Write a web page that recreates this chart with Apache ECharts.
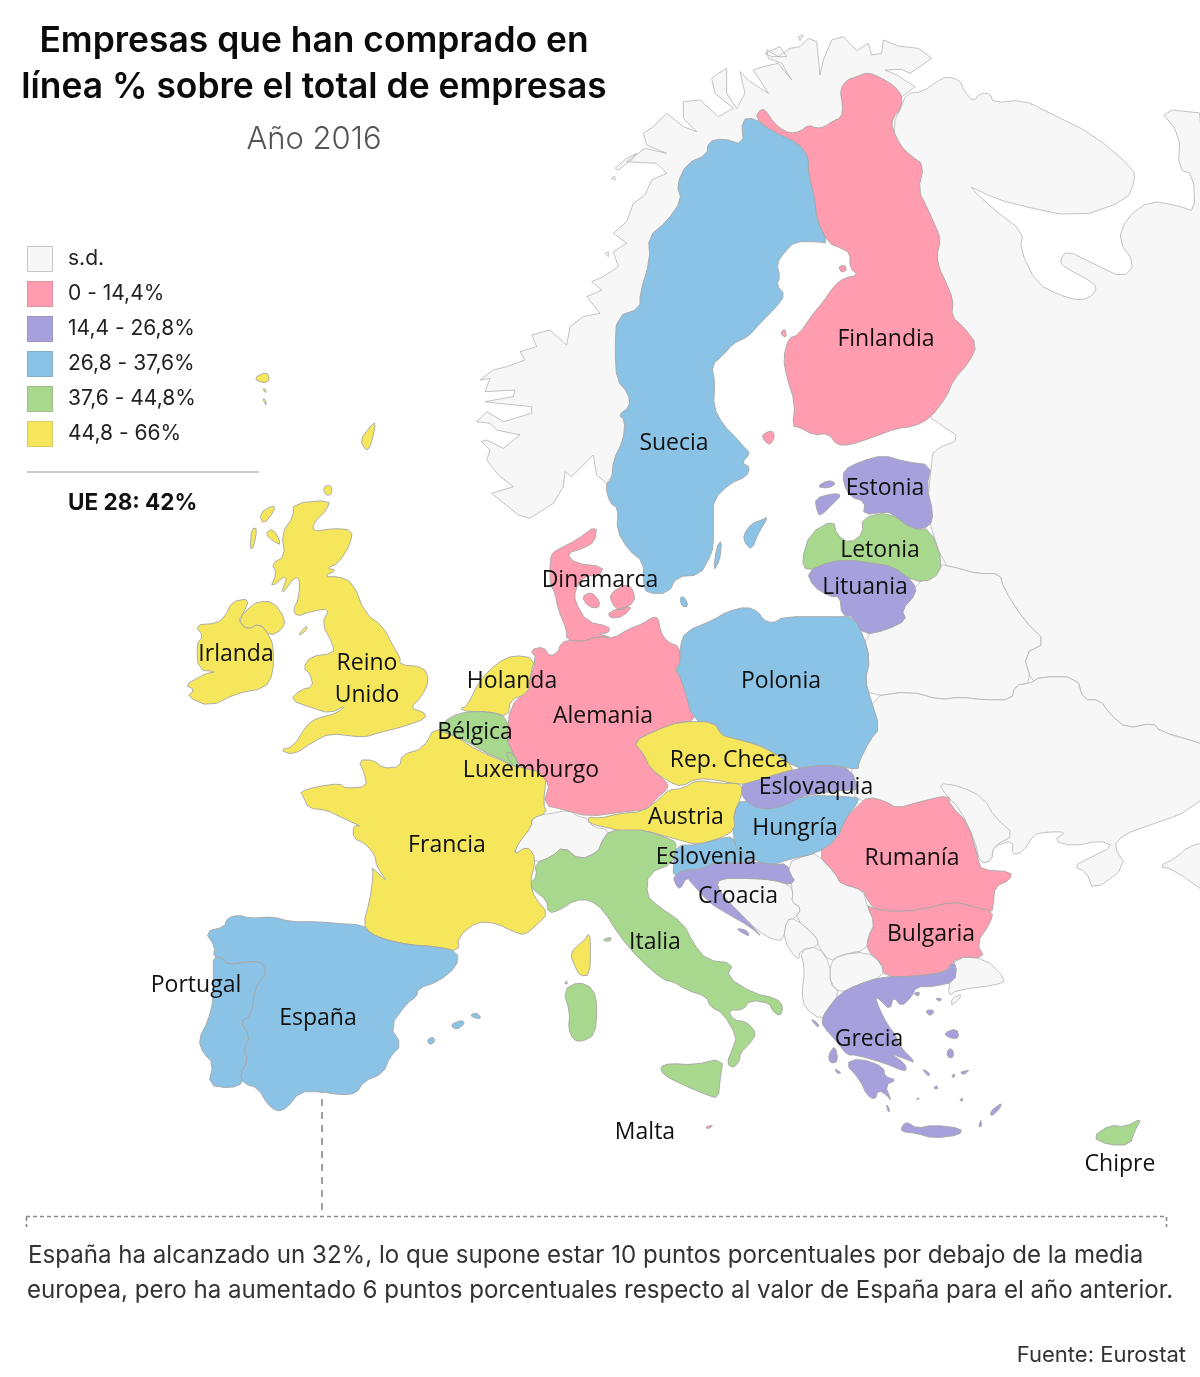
<!DOCTYPE html>
<html>
<head>
<meta charset="utf-8">
<title>Empresas que han comprado en línea</title>
<script src="https://cdn.jsdelivr.net/npm/echarts@6/dist/echarts.min.js"></script>
<style>
  html, body { margin: 0; padding: 0; background: #fff; }
  #main { width: 1200px; height: 1377px; }
</style>
</head>
<body>
<div id="main"></div>
<script>
// datos: % de empresas, estimado por el tramo de color de cada pais
var paises = ['Finlandia','Suecia','Estonia','Letonia','Lituania','Dinamarca','Polonia','Holanda','Irlanda','Reino Unido','Alemania','Bélgica','Luxemburgo','Rep. Checa','Eslovaquia','Austria','Hungría','Eslovenia','Francia','Rumanía','Croacia','Bulgaria','Italia','Portugal','España','Grecia','Malta','Chipre'];
var valores = [13, 35, 22, 40, 24, 12, 30, 55, 50, 60, 14, 42, 43, 52, 25, 47, 28, 33, 58, 10, 26, 8, 41, 34, 32, 20, 11, 39];
var sinDatos = ['Noruega','Rusia','Bielorrusia','Ucrania','Moldavia','Suiza','Bosnia','Serbia','Montenegro','Macedonia','Albania','Turquía'];
var tramos = [[-1,-1],[0,14.4],[14.4,26.8],[26.8,37.6],[37.6,44.8],[44.8,66]];
var tramoEtiquetas = ['s.d.','0 - 14,4%','14,4 - 26,8%','26,8 - 37,6%','37,6 - 44,8%','44,8 - 66%'];
var tramoColores = ['#f7f7f7','#ff9cb0','#a6a1dc','#8bc3e6','#a8d88e','#f5e65c'];

// posicion de cada rotulo en el mapa
var rotulos = {'Finlandia':[886,338],'Suecia':[674,442],'Estonia':[885,487],'Letonia':[880,549],'Lituania':[865,586],'Dinamarca':[600,579],'Polonia':[781,680],'Holanda':[512,680],'Irlanda':[236,653],'Reino Unido':[367,678],'Alemania':[603,715],'Bélgica':[475,731],'Luxemburgo':[531,769],'Rep. Checa':[729,759],'Eslovaquia':[816,786],'Austria':[686,816],'Hungría':[795,827],'Eslovenia':[706,856],'Francia':[447,844],'Rumanía':[912,857],'Croacia':[738,895],'Bulgaria':[931,933],'Italia':[655,941],'Portugal':[196,984],'España':[318,1017],'Grecia':[869,1038],'Malta':[645,1131],'Chipre':[1120,1163]};

// contornos calcados: @ox,oy[,sx,sy] fija origen y escala del calco
var Z1=' @470,30 ', Z2=' @170,360 ', Z3=' @500,420 ', Z4=' @180,740 ', Z5=' @520,780 ', Z6=' @860,100,3,1.742 ';
var contornos = {
  'Noruega':[Z1+'1295,235 1290,205 1335,170 1280,135 1245,120 1295,118 1320,130 1385,85 1345,55 1285,48 1240,30 1235,70 1205,75 1195,40 1160,62 1120,20 1085,30 1060,90 1050,135 1045,85 1040,35 1015,25 990,50 960,55 925,80 890,60 895,85 935,100 965,150 925,100 880,110 850,120 895,190 840,155 810,125 825,190 800,235 770,190 770,115 745,130 725,145 735,190 790,235 745,260 690,210 640,215 640,265 680,305 640,290 590,250 550,290 520,310 530,345 590,370 525,355 470,395 560,400 590,430 545,450 525,495 490,520 470,575 430,610 470,640 430,665 445,710 400,740 365,755 395,780 350,800 390,850 340,860 300,890 290,945 240,900 185,915 200,950 150,965 165,990 110,1010 70,1020 30,1050'+Z2+'960,55 945,95 1035,90 1030,110 945,125 985,130 1085,140 1085,160 1000,185 950,155 920,185 960,190 980,210 1050,225 1000,265 950,240 935,245 960,270 950,300 985,345 1030,380 965,400 1045,465 1080,475 1150,430 '+Z3+'190,200 195,155 215,170 255,130 280,105 290,165 320,190 '+Z1+'600,1100 750,600 1100,350 1200,260 1295,235',
    Z1+'435,415 470,385 500,370 490,385 445,420', Z1+'424,445 434,438 436,450', Z1+'885,70 930,50 950,80 905,80', Z1+'985,20 1000,15 990,32', Z1+'405,670 415,665 415,680'],
  'Rusia':[Z1+'1290,240 1310,190 1360,185 1400,155 1430,140 1470,150 1480,180 1510,215 1530,190 1560,190 '+Z6+'400,5 490,0 560,20 700,60 820,120 825,140 800,175 650,205 450,180 380,165 330,150 345,160 400,190 490,230 480,260 530,320 600,340 660,350 700,340 710,325 690,315 610,290 600,280 620,262 700,285 790,310 825,285 775,245 800,205 870,175 960,185 1005,195 1000,130 955,120 960,60 895,15 1060,25 1060,1130 1020,1120 900,1100 880,1085 800,1095 750,1070 720,1045 670,1045 650,1005 540,1005 515,1015 490,965 560,945 490,905 430,850 420,825 350,825 290,815 250,810 200,720 215,630 220,610 305,590 240,565 230,560 210,555 100,300 100,40',
    Z6+'895,1335 950,1320 985,1300 1060,1290 1060,1390 940,1340'],
  'Bielorrusia':[Z3+'1330,430 1250,490 1205,570 1090,645 1110,720 1095,780 1110,830 '+Z6+'150,1030 240,1045 300,1040 370,1045 455,1045 465,1020 515,1015 490,965 560,945 490,905 430,850 420,825 350,825 290,815 250,810'],
  'Ucrania':[Z6+'30,1040 150,1030 240,1045 300,1040 370,1045 455,1045 465,1020 515,1015 540,1005 650,1005 670,1045 720,1045 750,1070 800,1095 880,1085 900,1100 1020,1120 1060,1130 1060,1205 985,1235 960,1245 860,1265 790,1280 760,1300 800,1335 700,1378 680,1345 640,1335 690,1320 760,1300 720,1290 640,1300 580,1290 620,1275 560,1275 520,1280 490,1310 455,1315 460,1290 400,1300 395,1325 360,1330 320,1260 -10,1235 -30,1150'],
  'Moldavia':[Z6+'235,1190 300,1195 370,1215 405,1250 465,1280 400,1300 395,1325 360,1330 345,1290 300,1235 260,1212'],
  'Suiza':[Z4+'1000,345 1020,300 1050,260 1060,230 '+Z5+'30,130 50,105 100,100 145,90 175,110 205,115 215,140 270,150 245,185 235,215 180,240 130,200 95,230 45,250 15,210'],
  'Bosnia':[Z5+'600,295 690,295 760,300 810,315 820,340 815,365 845,385 825,415 800,420 790,480 760,480 710,450 650,390 620,360 590,320'],
  'Serbia':[Z5+'800,250 860,225 890,220 950,285 960,310 1030,330 1040,375 1065,430 1045,470 1040,510 960,525 930,545 895,500 890,470 825,415 845,385 815,365 820,340'],
  'Montenegro':[Z5+'790,480 800,420 825,415 890,470 895,500 840,510 835,545'],
  'Macedonia':[Z5+'930,550 960,525 1040,515 1085,550 1090,590 1010,615 965,640 930,610'],
  'Albania':[Z5+'840,510 895,500 930,550 930,610 960,640 920,690 905,720 855,685 845,640 855,570'],
  'Turquía':[Z5+'1310,530 1395,535 1460,600 1430,615 1310,630 1285,650 1290,590', Z5+'1295,655 1330,640 1295,680'],

  'Finlandia':[Z1+'855,262 875,235 890,245 905,270 930,295 960,310 990,305 1015,285 1040,295 1065,290 1085,275 1115,262 1118,225 1110,180 1130,150 1160,140 1190,128 1215,135 1245,150 1275,170 1298,200 1290,240 1270,262 1265,290 1290,345 1320,375 1362,405 1345,480 1370,530 1395,585 1412,628 1400,680 1410,720 1425,750 1450,810 1445,860 1480,890 1522,945 1495,1000 1450,1050 1430,1100 1380,1165 1330,1190 1280,1195 1200,1225 1140,1245 1100,1245 1075,1210 1030,1215 985,1190 968,1190 975,1120 950,1040 940,985 955,925 985,915 1030,850 1060,815 1090,770 1120,745 1165,735 1140,715 1140,670 1115,655 1075,640 1040,570 1035,510 1015,430 1015,380 985,340 940,320 900,300',
    Z1+'875,1215 905,1200 915,1220 900,1245 885,1235', Z1+'1105,710 1125,705 1130,720 1115,728', Z1+'930,910 945,895 950,925'],
  'Suecia':[Z1+'815,268 855,265 900,300 985,340 1015,380 1015,430 1035,510 1040,570 1075,640 1040,635 975,635 945,665 920,700 930,740 920,765 945,795 920,830 870,880 835,920 790,940 760,975 725,1005 735,1060 730,1130 760,1185 800,1225 830,1260 '+Z3+'750,100 725,130 750,140 740,170 690,190 640,240 640,300 640,380 630,410 600,465 530,470 505,520 440,520 430,490 430,425 385,390 350,330 355,265 330,250 315,195 335,180 340,120 370,60 375,0 '+Z1+'445,1155 480,1130 475,1090 440,1050 435,960 440,860 510,835 510,790 540,690 535,620 590,575 635,510 620,465 650,400 710,375 715,335 760,325 820,345',
    Z3+'730,345 755,310 785,300 805,290 775,340 755,390 735,370', Z3+'640,455 650,380 665,360 660,420', Z3+'540,530 555,532 565,560 545,560'],
  'Dinamarca':[Z3+'155,400 180,385 230,360 290,315 285,365 250,385 200,400 225,430 310,440 300,465 250,470 225,510 225,545 260,605 330,620 325,640 290,640 340,655 290,650 250,665 200,660 200,630 175,570 165,520 150,490 150,430',
    Z3+'245,530 275,515 300,545 295,565 265,560', Z3+'330,520 380,490 400,510 405,545 360,575 335,550', Z3+'325,575 400,555 370,590 330,595'],
  'Alemania':[Z3+'90,690 130,680 150,710 175,695 180,675 200,660 250,665 290,650 340,655 380,630 430,610 460,590 475,595 480,630 500,665 540,680 540,735 525,745 545,780 580,870 580,905 540,905 470,930 400,965 430,1000 450,1045 500,1085 505,1105 470,1135 440,1170 375,1175 265,1190 195,1170 130,1155 150,1085 115,1085 40,1020 20,960 30,860 80,810 110,715'],
  'Polonia':[Z3+'540,680 555,635 640,600 680,575 740,560 775,575 790,600 820,610 850,590 1000,590 1060,590 1090,645 1110,720 1095,780 1110,830 1140,925 1110,960 1075,1030 1075,1050 1000,1035 920,1040 890,1045 800,985 740,965 680,950 665,945 640,905 580,905 545,780 525,745 540,735'],
  'Rep. Checa':[Z3+'400,965 470,930 540,905 640,905 665,945 680,950 740,965 800,985 890,1045 840,1060 760,1085 720,1095 650,1080 590,1075 545,1100 505,1085 450,1045 430,1000'],
  'Eslovaquia':[Z3+'720,1095 760,1085 840,1060 920,1040 1000,1035 1055,1050 1075,1110 1040,1110 960,1120 900,1130 860,1160 780,1170 730,1140'],
  'Hungría':[Z5+'640,100 665,55 720,90 790,80 850,45 1000,50 1020,60 980,110 950,180 890,220 800,240 760,255 710,245 650,210 640,170'],
  'Austria':[Z5+'205,110 240,115 300,100 370,95 420,55 445,30 490,25 530,0 600,10 665,10 665,50 640,100 645,150 600,175 530,195 460,175 370,150 310,155 270,145 205,130'],
  'Italia':[Z5+'270,150 340,150 370,150 460,180 470,195 460,250 385,280 380,345 410,375 490,430 520,490 560,540 640,550 620,590 700,640 770,655 790,680 780,710 755,690 750,670 690,660 670,690 625,690 640,720 680,725 710,760 690,790 660,820 660,840 640,865 620,850 640,800 650,770 610,700 570,680 560,650 500,630 460,605 430,600 360,540 300,470 250,390 210,360 165,360 120,390 85,400 80,360 40,330 30,310 50,290 45,250 95,230 130,200 180,240 235,215 245,185',
    Z5+'420,860 450,850 520,855 610,835 600,900 595,955 560,945 490,915 430,885', Z5+'130,630 175,605 220,625 232,680 225,765 185,785 160,780 145,745 150,700', Z5+'245,480 275,470 270,485', Z5+'133,610 142,600 142,615'],
  'Francia':[Z4+'360,155 410,140 480,130 495,145 560,140 555,105 535,60 580,60 610,85 660,80 665,45 730,25 765,-40 830,-10 890,30 960,60 1010,80 1100,100 1090,190 1100,220 1055,235 1055,260 1015,310 1000,345 1040,320 1060,340 1065,370 1050,430 1065,475 1105,520 1070,555 1035,585 1000,575 950,550 890,545 835,590 835,635 770,620 690,615 620,600 570,580 550,550 570,480 580,400 575,380 625,430 590,380 585,345 555,310 520,295 520,255 545,260 490,235 440,210 385,205 370,170',
    Z5+'150,520 180,490 195,480 205,460 212,480 210,585 180,588 165,560'],
  'España':[Z4+'75,575 135,560 140,535 175,525 210,535 280,530 330,545 410,545 470,550 550,555 570,580 620,600 690,615 770,620 835,635 830,680 775,725 715,745 710,770 680,790 630,860 665,915 630,950 610,1000 550,1025 530,1060 485,1065 420,1055 360,1055 320,1105 290,1115 260,1090 235,1045 190,1030 180,1000 205,960 190,930 210,890 180,845 215,825 225,740 260,700 245,665 200,665 145,675 130,655 100,650 105,620',
    Z4+'810,855 845,840 855,850 830,870', Z4+'870,825 890,818 905,835 885,835', Z4+'740,900 760,890 765,905 750,915'],
  'Portugal':[Z4+'100,650 130,655 145,675 200,665 245,665 260,700 225,740 215,825 180,845 210,890 190,930 205,960 180,1000 190,1030 150,1045 85,1035 100,970 70,940 55,900 85,840 100,780 100,700'],
  'Reino Unido':[Z2+'370,430 480,420 470,450 430,490 430,515 490,505 548,510 540,555 505,610 470,625 500,630 460,650 510,650 550,670 585,760 640,800 670,860 690,890 690,915 760,920 778,960 755,1010 720,1045 760,1055 770,1075 700,1100 620,1120 590,1130 560,1130 480,1120 430,1145 370,1185 330,1170 370,1160 410,1095 440,1075 500,1060 530,1035 480,1060 430,1045 360,1020 390,990 430,980 420,940 400,925 420,890 490,880 490,855 455,790 480,745 420,755 380,770 370,745 385,720 390,660 375,650 330,710 355,640 300,685 320,640 305,610 345,590 335,520 370,470',
    Z2+'205,780 240,740 265,725 310,725 345,775 340,805 300,830 270,790 230,810', Z2+'268,460 310,435 315,450 280,495', Z2+'285,520 310,505 335,555 310,545', Z2+'245,505 262,505 250,565 240,565', Z2+'460,380 485,375 485,405 465,405', Z2+'570,240 600,200 618,185 605,250 590,275', Z2+'250,55 290,35 300,60 280,70', Z2+'278,85 290,90 285,100', Z2+'278,115 288,120 288,140', Z2+'385,825 410,795 410,810 390,825'],
  'Irlanda':[Z2+'75,795 140,790 165,770 185,725 240,715 215,770 205,780 230,810 270,790 300,830 310,860 310,940 285,985 200,1000 120,1040 50,1010 75,990 45,975 90,950 110,940 140,935 85,930 80,850 100,830'],
  'Holanda':[Z2+'890,1040 930,960 980,910 1030,885 1095,895 1080,950 1075,1000 1020,1020 1015,1070 960,1055 890,1055 870,1045'],
  'Bélgica':[Z2+'840,1070 890,1055 960,1055 1015,1075 1010,1140 1030,1180 1050,1220 1020,1215 1000,1200 940,1175 900,1150 860,1130 800,1110'],
  'Luxemburgo':[Z2+'1005,1175 1030,1180 1050,1225 1025,1215'],
  'Estonia':[Z3+'1030,150 1080,125 1150,105 1215,125 1295,135 1280,200 1300,280 1290,320 1240,330 1180,285 1160,275 1090,285 1095,245 1050,230 1030,190', Z3+'945,235 1000,220 1025,225 1000,250 960,290 950,270', Z3+'950,200 985,180 1010,190 985,205'],
  'Letonia':[Z3+'905,420 930,340 1000,300 1010,345 1050,370 1090,340 1085,295 1165,275 1240,330 1290,325 1330,430 1300,480 1240,485 1180,440 1120,430 1050,420 990,425 920,455'],
  'Lituania':[Z3+'920,455 990,425 1050,420 1120,430 1180,440 1240,485 1250,520 1205,570 1220,600 1160,630 1090,645 1060,590 1025,585 1020,530 990,530 940,500'],
  'Rumanía':[Z5+'1010,80 1045,50 1100,65 1130,85 1200,65 1285,45 1290,75 1345,130 1375,240 1385,270 1475,275 1470,300 1425,320 1420,370 1415,400 1360,380 1300,365 1200,390 1110,395 1060,385 1040,355 1030,330 960,310 950,285 890,220 950,180 980,110'],
  'Bulgaria':[Z5+'1040,375 1060,385 1110,395 1200,390 1300,365 1360,380 1420,395 1410,430 1370,490 1395,535 1310,530 1285,575 1180,590 1095,590 1085,550 1040,510 1045,470 1065,430'],
  'Eslovenia':[Z5+'460,250 470,195 530,195 600,175 640,170 650,210 710,245 640,250 590,245 540,270 490,270 460,290'],
  'Croacia':[Z5+'460,290 490,270 540,270 590,245 640,250 710,245 760,255 800,250 815,290 825,300 810,315 760,300 690,295 600,295 590,320 620,360 670,410 730,475 690,440 620,400 570,370 520,315 500,290 480,330 465,310', Z5+'650,445 680,450 690,470 660,455'],
  'Grecia':[Z5+'920,690 960,640 1010,615 1085,590 1180,590 1285,575 1290,550 1310,555 1305,605 1240,620 1190,620 1175,650 1145,680 1120,650 1110,690 1080,660 1065,650 1080,690 1100,730 1130,770 1140,800 1190,850 1150,835 1110,820 1155,850 1160,875 1130,865 1095,850 1010,825 980,825 955,790 910,740 905,720',
    Z5+'975,850 1020,835 1090,860 1095,890 1130,900 1095,915 1115,965 1100,945 1075,930 1065,960 1040,945 1020,900', Z5+'1145,1040 1160,1025 1190,1045 1240,1035 1325,1045 1320,1065 1240,1075 1190,1060 1145,1055', Z5+'870,715 895,730 895,745', Z5+'925,825 945,795 955,845 930,850', Z5+'945,865 965,880 950,880', Z5+'1270,760 1310,745 1318,775 1290,775', Z5+'1285,805 1300,810 1300,835 1280,830', Z5+'1180,640 1200,635 1195,650', Z5+'1245,655 1265,655 1260,665', Z5+'1215,690 1245,690 1230,710', Z5+'1320,875 1355,870 1330,885', Z5+'1410,995 1445,968 1440,985 1415,1010', Z5+'1375,1040 1385,1015 1385,1040', Z5+'1240,925 1250,915 1255,930', Z5+'1205,865 1230,880 1225,890', Z5+'1295,885 1308,882 1300,895', Z5+'1190,955 1200,955 1190,962', Z5+'1318,958 1332,955 1325,965', Z5+'1098,970 1110,990 1105,998'],
  'Malta':[Z5+'555,1040 585,1035 565,1047'],
  'Chipre':['@0,0,1,1 1092,1137 1110,1125 1125,1127 1142,1118 1135,1130 1130,1145 1108,1145']
};

// pasa un calco a coordenadas de pagina y redondea las esquinas
function anillo(txt, recortada) {
  var ox = 0, oy = 0, sx = 3, sy = 3, pts = [];
  txt.trim().split(/\s+/).forEach(function (t) {
    if (t.charAt(0) === '@') {
      var a = t.slice(1).split(',').map(Number);
      ox = a[0]; oy = a[1]; sx = a.length > 2 ? a[2] : 3; sy = a.length > 2 ? a[3] : 3;
    } else {
      var p = t.split(',').map(Number);
      pts.push([ox + p[0] / sx, 1377 - (oy + p[1] / sy)]);
    }
  });
  if (recortada) { pts.push(pts[0]); return pts; }
  // esquinas suaves: cada vertice se recorta un 25% por cada lado
  var suave = [];
  pts.forEach(function (a, i) {
    var b = pts[(i + 1) % pts.length];
    suave.push([a[0] * 0.75 + b[0] * 0.25, a[1] * 0.75 + b[1] * 0.25]);
    suave.push([a[0] * 0.25 + b[0] * 0.75, a[1] * 0.25 + b[1] * 0.75]);
  });
  suave.push(suave[0]);
  return suave;
}

var features = Object.keys(contornos).map(function (nombre) {
  var props = { name: nombre };
  if (rotulos[nombre]) props.cp = [rotulos[nombre][0], 1377 - rotulos[nombre][1] - 1];
  return {
    type: 'Feature',
    properties: props,
    geometry: { type: 'MultiPolygon', coordinates: contornos[nombre].map(function (r) { return [anillo(r, nombre === 'Noruega')]; }) }
  };
});
echarts.registerMap('europa', { type: 'FeatureCollection', features: features });

var myChart = echarts.init(document.getElementById('main'));

var grafico = [];
// marco fino de los cuadros de la leyenda
tramoEtiquetas.forEach(function (t, i) {
  grafico.push({ type: 'rect', z: 100, shape: { x: 27.5, y: 246.5 + i * 35, width: 25, height: 25 }, style: { fill: 'transparent', stroke: i === 0 ? '#c4c4c4' : 'rgba(120,120,120,0.25)', lineWidth: 1 } });
});
grafico.push(
  { type: 'line', shape: { x1: 27, y1: 472, x2: 259, y2: 472 }, style: { stroke: '#cccccc', lineWidth: 2 } },
  { type: 'text', left: 68, top: 492, style: { text: 'UE 28: 42%', font: '700 22.5px Inter', fill: '#111' } },
  { type: 'line', shape: { x1: 322, y1: 1060, x2: 322, y2: 1213 }, style: { stroke: '#888', lineWidth: 1.6, lineDash: [7, 6] } },
  { type: 'line', shape: { x1: 26, y1: 1216.5, x2: 1167, y2: 1216.5 }, style: { stroke: '#888', lineWidth: 1.6, lineDash: [4, 3] } },
  { type: 'line', shape: { x1: 26.5, y1: 1217, x2: 26.5, y2: 1227 }, style: { stroke: '#888', lineWidth: 1.6, lineDash: [4, 3] } },
  { type: 'line', shape: { x1: 1166.5, y1: 1217, x2: 1166.5, y2: 1227 }, style: { stroke: '#888', lineWidth: 1.6, lineDash: [4, 3] } },
  { type: 'text', left: 28, top: 1244, style: { text: 'España ha alcanzado un 32%, lo que supone estar 10 puntos porcentuales por debajo de la media', font: '400 24.1px Inter', fill: '#333' } },
  { type: 'text', left: 27, top: 1279, style: { text: 'europea, pero ha aumentado 6 puntos porcentuales respecto al valor de España para el año anterior.', font: '400 24.1px Inter', fill: '#333' } },
  { type: 'text', right: 14, top: 1344, style: { text: 'Fuente: Eurostat', font: '400 22px Inter', fill: '#333' } }
);

myChart.setOption({
  backgroundColor: '#ffffff',
  animation: false,
  title: [{
    text: 'Empresas que han comprado en\nlínea % sobre el total de empresas',
    left: 314,
    top: 18,
    padding: 0,
    textAlign: 'center',
    textStyle: { fontFamily: 'Inter', fontWeight: 600, fontSize: 35.4, lineHeight: 46, color: '#0b0b0b' }
  }, {
    text: 'Año 2016',
    left: 314,
    top: 124,
    padding: 0,
    textAlign: 'center',
    textStyle: { fontFamily: 'Inter', fontWeight: 300, fontSize: 31, color: '#555' }
  }],
  visualMap: {
    type: 'piecewise',
    left: 27,
    top: 246,
    padding: 0,
    inverse: true,
    itemWidth: 26,
    itemHeight: 26,
    itemGap: 9,
    textGap: 15,
    itemSymbol: 'rect',
    selectedMode: false,
    hoverLink: false,
    seriesIndex: 0,
    textStyle: { fontFamily: 'Inter', fontSize: 21, color: '#222', padding: [5, 0, 0, 0] },
    pieces: tramos.map(function (t, i) {
      var p = { label: tramoEtiquetas[i], color: tramoColores[i] };
      if (t[0] === t[1]) { p.value = t[0]; } else { p.gte = t[0]; p.lt = t[1]; }
      return p;
    })
  },
  graphic: grafico,
  series: [{
    type: 'map',
    map: 'europa',
    aspectScale: 1,
    boundingCoords: [[0, 1377], [1200, 0]],
    left: 0,
    top: 0,
    width: 1200,
    height: 1377,
    roam: false,
    silent: true,
    itemStyle: { areaColor: '#f7f7f7', borderColor: '#a6a6a6', borderWidth: 0.9 },
    label: {
      show: true,
      fontFamily: 'Open Sans',
      fontSize: 23,
      color: '#111',
      lineHeight: 32,
      formatter: function (p) {
        if (paises.indexOf(p.name) < 0) return '';
        return p.name === 'Reino Unido' ? 'Reino\nUnido' : p.name;
      }
    },
    data: paises.map(function (n, i) { return { name: n, value: valores[i] }; })
      .concat(sinDatos.map(function (n) { return { name: n, value: null, itemStyle: { borderColor: '#b4b4b4', borderWidth: 0.8 } }; }))
  }]
});
</script>
</body>
</html>
